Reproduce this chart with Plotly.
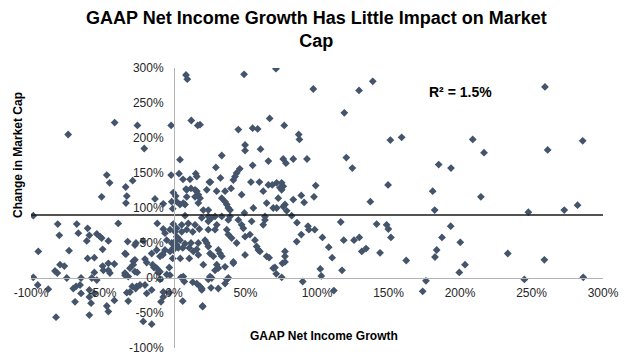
import plotly.graph_objects as go

# GAAP Net Income Growth (%) per company
income_growth = [
    -74, -41.5, -25.6, -2, 8.4, 9.3, 12.1, 16.6, -20.8, 4.2, -47, -45, -28.9, -33.8, -50.6, -33, -33.6,
    -2, 3.5, 6.3, 11.2, 15.2, 24.7, 8.4, -13.3, -7.5,
    -0.5, 1.2, -1.6, 1.9, 6.5, 8.9, 8.9, 11.9, 15.9, 14.7, 17, 7.7,
    -98.4, -81.3, -68, -39, -80.2, -66.9, -60.4, -59.2, -54, -51.7, -50.6, -45.9, -61, -32.4, -26.6, -21.5,
    -94.9, -73.4, -49.9, -60.4, -55.7, -34.3, -33.6, -28.5, -20.3, -19.1, -45.9, -41.7, -49.9, -49.4,
    -79.7, -76.7, -83.2, -81.6, -98.4, -75, -65, -55.7, -57.5, -54, -45.9, -44.8, -34.3, -32, -27.3, -25.7,
    -14, -11, -9.8, -5.1, -3.3, -95.3, -87.9, -70.4, -68.5, -65.7, -69.2, -65, -59.2, -55.7, -58, -59.2,
    -47, -45.9, -41.7, -59.2, -82.5, -33, -32, -29.2, -26.8, -26.1, -19.1, -15.6, -9.1, -7.5, -3.3,
    -21.5, -15.6, 6.1, 4.9, 7.2, 13.1, 19.4, 20, -0.9, 4.4, -0.5, 1.9, 1.9, 6.1, 7.7, 11.9, 13.5, 15.9,
    -0.5, 1.9, 5.4, 10, 14.7, 17.7, -0.9, 4.2, 7.7, -11.7, -7.5, -6.3, -15.6, -12.1, -9.8, -7.9,
    -2.8, 0.7, 5.4, 8.9, 13.1, -27.3, -5.1, -1.6, 0.7, 4.2, 3, -0.5, -2.8, -6.3, 10.7, 17, -7.9, 10.7, 17,
    -27.3, -28.5, -30.8, -34.3, -14.9, -12.1, -9.8, -2.8, 6.5, 15.9, -23.8, -20.3, -30.8, -7.5,
    33.4, 49.7, 60.5, 66, 29.3, 55, 46, 43.8, 42.7, 41.5, 32.5, 25.5, 53.8, 59.7, 66, 15.9, 14.7, 17, 18.2,
    22.9, 29.8, 35.7, 33.4, 35.7, 36.9, 38, 39.2, 47.3, 62.4, 64.8, 55.5, 49.2, 20.5, 24, 24, 28.7, 33.4,
    39.2, 63.6, 68.7, 39.9,
    49, 71.3, 97.4, 129.4, 139, 119.1, 66.9, 77.1, 45, 55, 58.5, 87.2, 87.7, 49.7, 76.4, 78.3, 83.4, 93,
    120.5, 124.7, 151.3, 159.2, 149.7, 137.3, 99.1, 97.9, 18.2,
    71.8, 75.3, 76.4, 74.1, 75.3, 72.9, 89, 83.4, 91, 77.6, 76.4, 78.8, 71.8, 69.4, 82.3,
    86, 93.7, 94.3, 98.4, 116.6, 141.7, 148.7, 149.9, 89, 85.8, 103.8, 118.7, 125.9, 129.6, 151.7, 108.2,
    110.6, 131.3, 134.3, 144.1, 162.4, 77.6, 77.6, 77.6, 75.8, 66.5, 70.6, 71.5, 75.3, 90, 102.3, 103,
    117.5, 111.8, 19.4, 20, 31, 36.9, 35.7, 26.4, 24, 41.5,
    19.4, 24, 26.4, 29.9, 28.7, 24, 38, 45, 47.3, 48.5, 54.3, 63.6, 62.4, 36.9, 38, 40.3, 49.7, 53.1, 56.6,
    43.8, 21.7, 22.9, 24, 57.8, 59, 60.1, 31, 32.2, 33.4, 25.2, 27.5, 49.7, 64.8, 41.5, 35.7, 29.9, 28.7,
    31, 20.5, 69.4, 25.2, 38, 18.2, 25.9,
    259.4, 208.9, 216.8, 261.3, 285.8, 185.1, 193.7, 180.9, 214.6, 282.2, 182.3, 247.8, 272.9, 193.5,
    187.4, 200.2, 183.7, 182.5, 233.4, 259, 203.5, 199.5, 176.2, 173.9, 245, 286.2,
]

# Change in Market Cap (%) per company
market_cap_change = [
    205, 222, 218, 218, 290, 284, 225, 218, 185, 169, 147, 136, 139, 130, 116, 117, 107,
    147, 149, 141, 141, 149, 137, 127, 113, 106,
    122, 117, 109, 109, 107, 126, 116, 128, 124, 116, 107, 89,
    89, 77, 77, 78, 61, 64, 71, 61, 63, 59, 57, 53, 53, 52, 50, 53,
    38, 39, 41, 28, 29, 35, 34, 24, 27, 22, 21, 20, 17, 11,
    19, 17, 10, 7, 1, 0, 0, 8, 0, -3, 11, 7, 7, 2, 9, 8,
    15, 8, -2, 5, 15, -10, -16, -15, -12, -10, -34, -22, -17, -22, -36, -27,
    -40, -48, -32, -53, -56, -21, -33, -12, -15, -12, -22, -17, -34, -27, -21,
    -62, -66, -33, 1, -5, -6, -17, -41, 28, 28, 40, 47, 59, 43, 49, 50, 38, 41,
    77, 71, 76, 78, 76, 70, 99, 105, 105, 78, 70, 64, 35, 40, 31, 34,
    69, 66, 66, 69, 66, 47, 54, 50, 52, 54, 43, 43, 38, 40, 43, 50, 33, 28, 33,
    26, 19, 14, 4, 19, 14, 9, 4, 2, -8, -10, -10, -20, -20,
    175, 182, 184, 167, 158, 161, 156, 150, 145, 140, 143, 137, 137, 137, 133, 145, 126, 119, 114,
    126, 124, 124, 114, 109, 105, 100, 97, 119, 124, 107, 100, 93, 97, 97, 88, 88, 88,
    88, 88, 133, 128,
    291, 299, 270, 268, 281, 236, 228, 218, 212, 214, 213, 205, 198, 190, 170, 164, 170, 170,
    172, 157, 197, 201, 133, 109, 132, 116, 219,
    136, 136, 131, 129, 126, 114, 118, 112, 108, 105, 102, 96, 100, 100, 89,
    79, 74, 69, 69, 80, 77, 76, 70, 62, 52, 58, 54, 54, 58, 58, 44,
    29, 38, 42, 36, 25, 38, 31, 23, 21, 29, 15, 6, 1, -5, 13, 3,
    11, -18, -15, -40, -15, -2, -8, 0, -2, 23,
    86, 81, 86, 76, 69, 69, 83, 83, 76, 71, 81, 83, 76, 69, 62, 57, 59, 62, 54,
    50, 54, 50, 45, 45, 40, 38, 40, 35, 31, 35, 31, 33, 31, 21, 16, 19, 11,
    14, 19, 14, 2, 0, -12, -14,
    273, 198, 179, 183, 196, 162, 157, 124, 116, 104, 97, 94, 97, 74,
    58, 51, 40, 30, 35, 26, 19, 8, -4, -19, -2, 1,
]

# Horizontal reference (trend) line
trend_x = [-100, 300]
trend_y = [90, 90]

tick_vals = [-100, -50, 0, 50, 100, 150, 200, 250, 300]
tick_text = ["-100%", "-50%", "0%", "50%", "100%", "150%", "200%", "250%", "300%"]

FONT = "Liberation Sans, Arial, sans-serif"
MARK = "#44546A"

# The page body adds an 8px offset; size the figure so it fills the window.
OFF = 8
W, H = 630 - OFF, 361 - OFF

# plot area in window pixels, converted to figure pixels
L, R, T, B = 31 - OFF, 603 - OFF, 68 - OFF, 348 - OFF
PW, PH = R - L, B - T

def px(xp):
    return (xp - OFF - L) / PW

def py(yp):
    return (B - (yp - OFF)) / PH

fig = go.Figure()
fig.add_trace(go.Scatter(
    x=income_growth, y=market_cap_change, mode="markers",
    marker=dict(symbol="diamond", size=6, color=MARK, line=dict(width=0)),
    showlegend=False, hoverinfo="x+y",
))
fig.add_trace(go.Scatter(
    x=trend_x, y=trend_y, mode="lines",
    line=dict(color="#1a1a1a", width=1.5),
    showlegend=False, hoverinfo="skip",
))

fig.update_layout(
    width=W, height=H,
    margin=dict(l=L, r=W - R, t=T, b=H - B, autoexpand=False),
    paper_bgcolor="white", plot_bgcolor="white",
    font=dict(family=FONT, size=12, color="#262626"),
    xaxis=dict(
        range=[-100, 300], tickvals=tick_vals, ticktext=tick_text,
        showgrid=False, zeroline=False, showline=True, linecolor="#b3b3b3", linewidth=1,
        anchor="free", position=0.25, ticks="", ticklabelstandoff=4, automargin=False,
        tickfont=dict(family=FONT, size=12, color="#262626"),
    ),
    yaxis=dict(
        range=[-100, 300], tickvals=tick_vals, ticktext=tick_text,
        showgrid=False, zeroline=False, showline=True, linecolor="#b3b3b3", linewidth=1,
        anchor="free", position=0.25, ticks="", ticklabelstandoff=8, automargin=False,
        tickfont=dict(family=FONT, size=12, color="#262626"),
    ),
    annotations=[
        dict(text="<b>GAAP Net Income Growth Has Little Impact on Market<br>Cap</b>",
             xref="paper", yref="paper", x=px(316), y=py(6), xanchor="center", yanchor="top",
             showarrow=False, font=dict(family=FONT, size=18, color="#000000")),
        dict(text="<b>GAAP Net Income Growth</b>", xref="paper", yref="paper",
             x=px(324), y=py(336), xanchor="center", yanchor="middle",
             showarrow=False, font=dict(family=FONT, size=12, color="#000000")),
        dict(text="<b>Change in Market Cap</b>", xref="paper", yref="paper",
             x=px(18), y=py(155), xanchor="center", yanchor="middle",
             textangle=-90, showarrow=False, font=dict(family=FONT, size=12, color="#000000")),
        dict(text="<b>R² = 1.5%</b>", xref="paper", yref="paper",
             x=px(427), y=py(92), xanchor="left", yanchor="middle",
             showarrow=False, font=dict(family=FONT, size=14, color="#000000")),
    ],
)

fig.write_html("out.html")
